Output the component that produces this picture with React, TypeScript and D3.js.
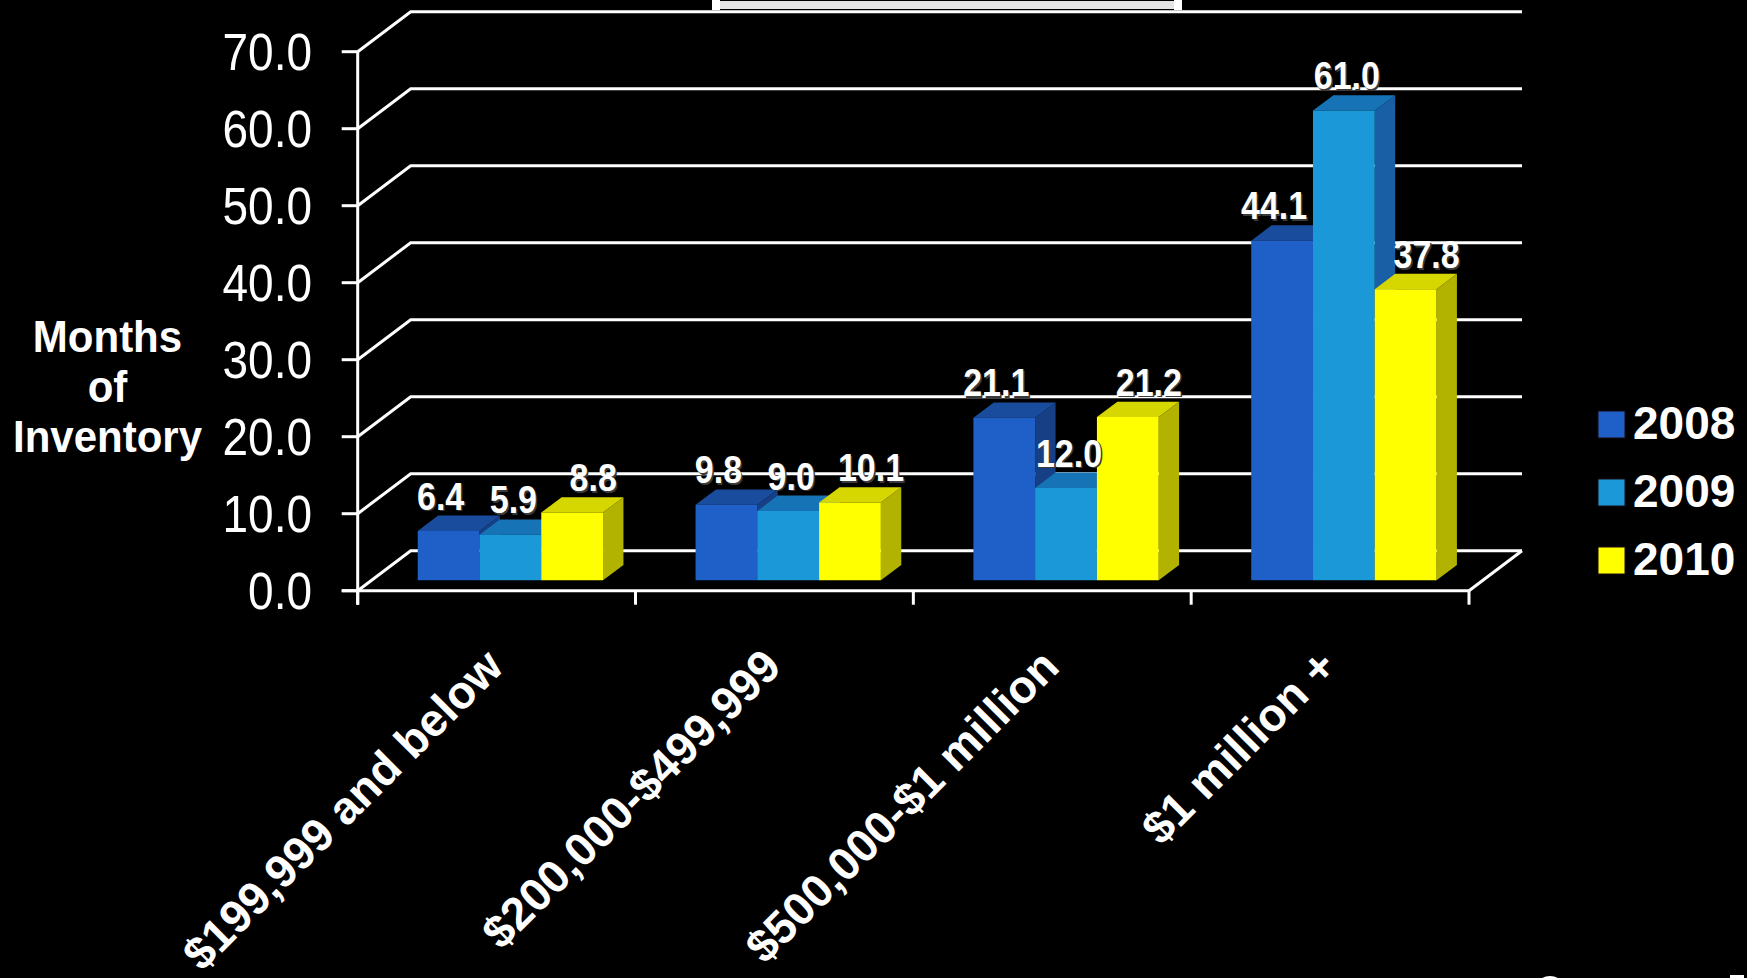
import React, { useEffect } from "react";
import * as d3 from "d3";

// ---------- data ----------
const categories = ["$199,999 and below", "$200,000-$499,999", "$500,000-$1 million", "$1 million +"];
const seriesNames = ["2008", "2009", "2010"];
const values2008 = [6.4, 9.8, 21.1, 44.1];
const values2009 = [5.9, 9.0, 12.0, 61.0];
const values2010 = [8.8, 10.1, 21.2, 37.8];
const yTickValues = [0, 10, 20, 30, 40, 50, 60, 70];
const yAxisTitle = ["Months", "of", "Inventory"];

// ---------- layout / style ----------
const W = 1747;
const H = 978;
const FONT = "'Liberation Sans', Arial, Helvetica, sans-serif";
const X0 = 357.7;
const X1 = 1469;
const Y0 = 590.7;
const Y70 = 51.7;
const DX = 53; // depth offset of the floor / walls
const DY = 40;
const BAR_F0 = 0.26; // front of bars as fraction of depth
const BAR_F1 = 0.645; // back of bars
const GROUP_FRAC = 0.667;
const STROKE = 3;

const seriesStyle = [
  { front: "#1e5fc8", top: "#1a4c9e", side: "#163f86", legend: "#1e5fc8", nudge: -8 },
  { front: "#1a98d8", top: "#1674b6", side: "#195fa5", legend: "#1a98d8", nudge: 3 },
  { front: "#ffff00", top: "#d6d600", side: "#b2b200", legend: "#ffff00", nudge: 21 },
];

export default function App() {
  useEffect(() => {
    document.body.style.margin = "0";
    document.body.style.background = "#000";
    document.body.style.overflow = "hidden";
  }, []);

  const seriesValues = [values2008, values2009, values2010];

  const x = d3.scaleBand<string>().domain(categories).range([X0, X1]).padding(0);
  const bw = x.bandwidth();
  const inner = d3
    .scaleBand<string>()
    .domain(seriesNames)
    .range([-(bw * GROUP_FRAC) / 2, (bw * GROUP_FRAC) / 2])
    .padding(0);
  const y = d3.scaleLinear().domain([0, 70]).range([Y0, Y70]);

  const backRight = X1 + DX;
  const bdx = (BAR_F1 - BAR_F0) * DX;
  const bdy = (BAR_F1 - BAR_F0) * DY;
  const shiftX = BAR_F0 * DX;
  const shiftY = BAR_F0 * DY;

  const line = d3.line();

  const grid = yTickValues.map((v) => {
    const yf = y(v);
    return (
      <path
        key={"g" + v}
        d={line([
          [X0, yf],
          [X0 + DX, yf - DY],
          [backRight, yf - DY],
        ]) || ""}
        fill="none"
        stroke="#fff"
        strokeWidth={STROKE}
      />
    );
  });

  const bars: React.ReactNode[] = [];
  const labels: React.ReactNode[] = [];
  categories.forEach((c, ci) => {
    seriesNames.forEach((s, si) => {
      const v = seriesValues[si][ci];
      const st = seriesStyle[si];
      const xl = (x(c) as number) + bw / 2 + (inner(s) as number) + shiftX;
      const w = inner.bandwidth();
      const yBase = y(0) - shiftY;
      const yTop = yBase - (y(0) - y(v));
      const front = line([
        [xl, yTop],
        [xl + w, yTop],
        [xl + w, yBase],
        [xl, yBase],
      ]) + "Z";
      const top = line([
        [xl, yTop],
        [xl + w, yTop],
        [xl + w + bdx, yTop - bdy],
        [xl + bdx, yTop - bdy],
      ]) + "Z";
      const side = line([
        [xl + w, yTop],
        [xl + w + bdx, yTop - bdy],
        [xl + w + bdx, yBase - bdy],
        [xl + w, yBase],
      ]) + "Z";
      bars.push(
        <g key={`b${ci}-${si}`}>
          <path d={side} fill={st.side} />
          <path d={top} fill={st.top} />
          <path d={front} fill={st.front} />
        </g>
      );
      const lx = xl + w / 2 + st.nudge;
      const ly = yTop - bdy - 6;
      const txt = v.toFixed(1);
      labels.push(
        <g key={`l${ci}-${si}`} transform={`translate(${lx},${ly}) scale(1,1.15)`}>
          <text x={1.5} y={1.5} textAnchor="middle" fontFamily={FONT} fontWeight="bold" fontSize={34} fill="#3a3a3a">
            {txt}
          </text>
          <text x={0} y={0} textAnchor="middle" fontFamily={FONT} fontWeight="bold" fontSize={34} fill="#fff">
            {txt}
          </text>
        </g>
      );
    });
  });

  const yLabels = yTickValues.map((v) => (
    <g key={"yl" + v} transform={`translate(312,${y(v) + 18.4}) scale(1,1.12)`}>
      <text textAnchor="end" fontFamily={FONT} fontSize={46} fill="#fff">
        {v.toFixed(1)}
      </text>
    </g>
  ));
  const yTicks = yTickValues.map((v) => (
    <path key={"yt" + v} d={`M${X0 - 16},${y(v)}H${X0}`} stroke="#fff" strokeWidth={STROKE} />
  ));

  const catEdges = [...categories.map((c) => x(c) as number), X1];
  const catTicks = catEdges.map((cx, i) => (
    <path key={"ct" + i} d={`M${cx},${Y0}V${Y0 + 14}`} stroke="#fff" strokeWidth={STROKE} />
  ));

  const catLabels = categories.map((c) => {
    const cx = (x(c) as number) + bw / 2 + 9;
    return (
      <text
        key={"cl" + c}
        transform={`translate(${cx},669) rotate(-45)`}
        textAnchor="end"
        fontFamily={FONT}
        fontWeight="bold"
        fontSize={46}
        fill="#fff"
      >
        {c}
      </text>
    );
  });

  const legendRows = [424.5, 492.5, 560.5];
  const legend = seriesNames.map((s, i) => (
    <g key={"lg" + s}>
      <rect x={1598} y={legendRows[i] - 13.5} width={27} height={27} fill={seriesStyle[i].legend} stroke="#1a0a10" strokeWidth={1} />
      <text x={1633} y={legendRows[i] + 14.5} fontFamily={FONT} fontWeight="bold" fontSize={46} fill="#fff">
        {s}
      </text>
    </g>
  ));

  return (
    <svg
      width={W}
      height={H}
      viewBox={`0 0 ${W} ${H}`}
      style={{ position: "absolute", left: 0, top: 0, background: "#000", display: "block" }}
    >
      <rect x={0} y={0} width={W} height={H} fill="#000" />
      <rect x={712} y={1} width={470} height={8} fill="#e4e4e4" />
      <rect x={712} y={0} width={8} height={10} fill="#fff" />
      <rect x={1174} y={0} width={8} height={10} fill="#fff" />

      {grid}
      <path d={`M${X1},${Y0}L${X1 + DX},${Y0 - DY}`} stroke="#fff" strokeWidth={STROKE} fill="none" />
      {bars}
      <path d={`M${X0},${Y70}V${Y0 + 14}`} stroke="#fff" strokeWidth={STROKE} />
      <path d={`M${X0 - 16},${Y0}H${X1}`} stroke="#fff" strokeWidth={STROKE} />
      {yTicks}
      {catTicks}
      {yLabels}
      {labels}
      {catLabels}
      {yAxisTitle.map((t, i) => (
        <g key={"yt" + t} transform={`translate(107.5,${351.7 + i * 50}) scale(1,1.05)`}>
          <text textAnchor="middle" fontFamily={FONT} fontWeight="bold" fontSize={42} fill="#fff">
            {t}
          </text>
        </g>
      ))}
      {legend}
      <ellipse cx={1550} cy={988} rx={14} ry={12} fill="#fff" />
      <rect x={1730} y={975} width={14} height={4} fill="#fff" />
    </svg>
  );
}
